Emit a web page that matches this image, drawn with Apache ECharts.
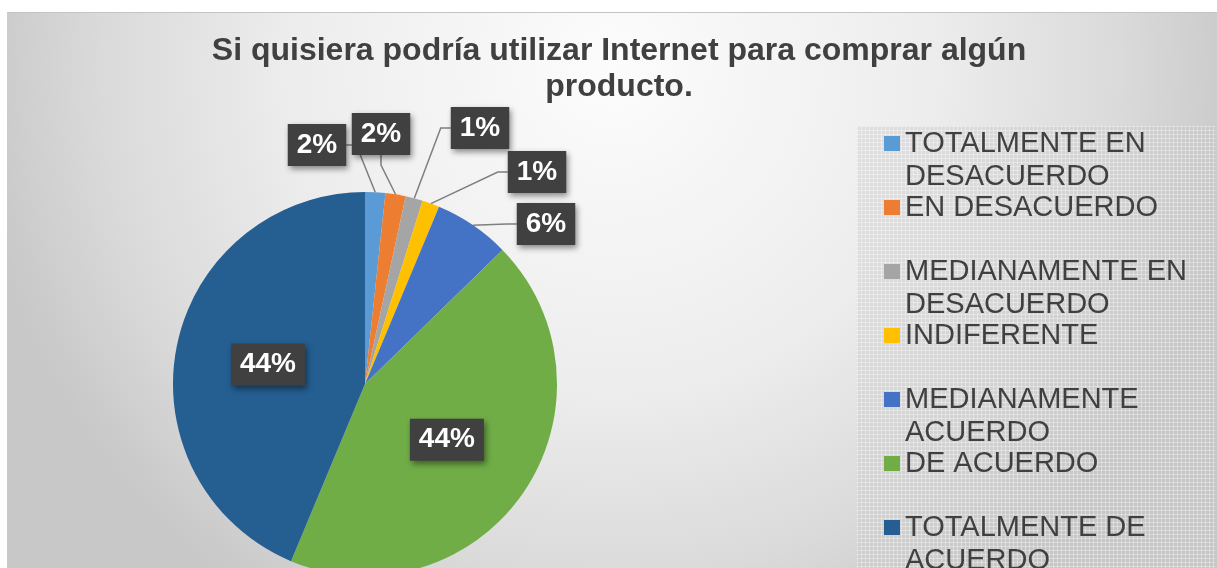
<!DOCTYPE html>
<html>
<head>
<meta charset="utf-8">
<script src="https://cdn.jsdelivr.net/npm/echarts@6/dist/echarts.min.js"></script>
<style>
  html, body { margin: 0; padding: 0; background: #ffffff; }
  #main { position: absolute; left: 7px; top: 12px; width: 1210px; height: 556px; border-top: 1px solid #c4c4c4; box-sizing: border-box; }
</style>
</head>
<body>
<div id="main"></div>
<script>
// respuestas de la encuesta
var categories = [
  'TOTALMENTE EN\nDESACUERDO',
  'EN DESACUERDO',
  'MEDIANAMENTE EN\nDESACUERDO',
  'INDIFERENTE',
  'MEDIANAMENTE\nACUERDO',
  'DE ACUERDO',
  'TOTALMENTE DE\nACUERDO'
];
var values = [1.7, 1.7, 1.45, 1.45, 6.4, 43.6, 43.7];
var colors = ['#5B9BD5', '#ED7D31', '#A5A5A5', '#FFC000', '#4472C4', '#70AD47', '#255E91'];

// where the small outside labels sit (centre of the box, in chart px)
var labelSpots = [[310, 132], [374, 121], [473, 115], [530, 159], [539, 211]];

var font = "'Liberation Sans', Arial, sans-serif";

// grid texture for the legend panel
var tex = document.createElement('canvas');
tex.width = 4; tex.height = 4;
var tctx = tex.getContext('2d');
tctx.fillStyle = 'rgba(195,195,195,0.38)';
tctx.fillRect(0, 0, 4, 4);
tctx.fillStyle = 'rgba(255,255,255,0.35)';
tctx.fillRect(0, 0, 4, 1);
tctx.fillRect(0, 0, 1, 4);

var myChart = echarts.init(document.getElementById('main'));

var pieData = categories.map(function (c, i) {
  var item = { name: c, value: values[i], itemStyle: { color: colors[i] } };
  if (values[i] > 20) {
    item.label = { position: 'inside' };
    item.labelLine = { show: false };
  }
  return item;
});

option = {
  backgroundColor: {
    type: 'radial', x: 0.5, y: 0.1, r: 1.15,
    colorStops: [
      { offset: 0, color: '#fcfcfc' },
      { offset: 0.5, color: '#ededed' },
      { offset: 0.8, color: '#dadada' },
      { offset: 1, color: '#c8c8c8' }
    ]
  },
  title: {
    text: 'Si quisiera podría utilizar Internet para comprar algún\nproducto.',
    left: 612,
    top: 20,
    padding: 0,
    textAlign: 'center',
    textStyle: {
      fontFamily: font,
      fontSize: 32,
      fontWeight: 'bold',
      lineHeight: 36,
      color: '#404040'
    }
  },
  graphic: [{
    type: 'rect',
    left: 850,
    top: 113,
    z: 0,
    shape: { width: 358, height: 460 },
    style: { fill: { image: tex, repeat: 'repeat' } }
  }],
  legend: {
    orient: 'vertical',
    left: 877,
    top: 81,
    height: 800,
    padding: 0,
    itemGap: -35,
    itemWidth: 16,
    itemHeight: 15,
    icon: 'rect',
    data: categories,
    formatter: function (name) {
      return '\n' + name + (name.indexOf('\n') < 0 ? '\n' : '');
    },
    textStyle: {
      fontFamily: font,
      fontSize: 29,
      lineHeight: 33,
      color: '#404040'
    }
  },
  series: [
    {
      name: 'Internet',
      type: 'pie',
      center: [358, 371],
      radius: 192,
      startAngle: 90,
      clockwise: true,
      avoidLabelOverlap: false,
      animation: false,
      label: {
        show: true,
        position: 'outside',
        formatter: function (p) { return Math.round(p.percent) + '%'; },
        fontFamily: font,
        fontSize: 28,
        fontWeight: 'bold',
        lineHeight: 28,
        color: '#ffffff',
        backgroundColor: '#404040',
        padding: [7, 9],
        shadowColor: 'rgba(0,0,0,0.45)',
        shadowBlur: 6,
        shadowOffsetX: 2,
        shadowOffsetY: 3
      },
      labelLine: {
        show: true,
        length: 12,
        length2: 10,
        lineStyle: { color: '#7f7f7f', width: 1.5 }
      },
      labelLayout: function (p) {
        var s = labelSpots[p.dataIndex];
        if (!s) return {};
        return { x: s[0], y: s[1], align: 'center', verticalAlign: 'middle' };
      },
      data: pieData
    }
  ]
};
myChart.setOption(option);
</script>
</body>
</html>
